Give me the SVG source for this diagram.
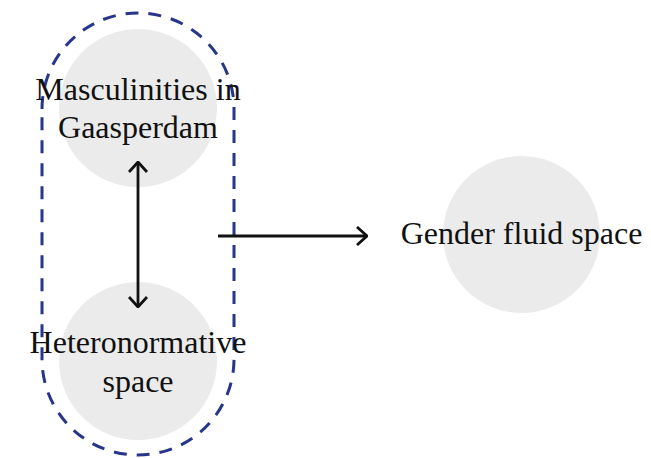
<svg xmlns="http://www.w3.org/2000/svg" width="651" height="458" viewBox="0 0 651 458">
<style>
.node circle{fill:#ebebeb}
.lbl{font-family:"Liberation Serif","Times New Roman",serif;font-size:32px;fill:#111;text-anchor:middle}
.conn{stroke:#111;stroke-width:2.8;fill:none}
.group{stroke:#27358a;stroke-width:3;fill:none;stroke-dasharray:13 10}
</style>
<defs>
<marker id="arr" viewBox="0 0 12 20" refX="11" refY="10" markerWidth="12" markerHeight="20" markerUnits="userSpaceOnUse" orient="auto-start-reverse">
<path d="M1,1 L11,10 L1,19" fill="none" stroke="#111" stroke-width="2.8"/>
</marker>
</defs>
<g id="masculinities" class="node"><circle cx="138" cy="108" r="79"/></g>
<g id="heteronormative" class="node"><circle cx="138" cy="361" r="79"/></g>
<g id="genderfluid" class="node"><circle cx="521.5" cy="234.5" r="78.5"/></g>
<g id="group-outline"><path class="group" d="M42,109 A96,96 0 0 1 234,109 L234,359 A96,96 0 0 1 42,359 Z"/></g>
<g id="connectors">
<line class="conn" x1="138" y1="162" x2="138" y2="307" marker-start="url(#arr)" marker-end="url(#arr)"/>
<line class="conn" x1="218" y1="236" x2="367" y2="236" marker-end="url(#arr)"/>
</g>
<g id="labels">
<text class="lbl" x="138" y="100">Masculinities in</text>
<text class="lbl" x="138" y="138">Gaasperdam</text>
<text class="lbl" x="138" y="353">Heteronormative</text>
<text class="lbl" x="138" y="392">space</text>
<text class="lbl" x="521.5" y="244">Gender fluid space</text>
</g>
</svg>
